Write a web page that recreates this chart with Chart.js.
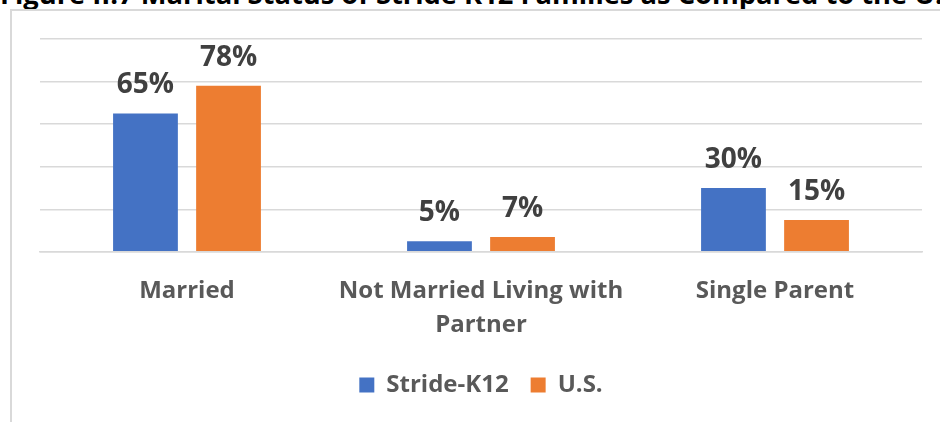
<!DOCTYPE html>
<html>
<head>
<meta charset="utf-8">
<script src="https://cdn.jsdelivr.net/npm/chart.js@4.4.1/dist/chart.umd.min.js"></script>
<style>
  html, body { margin: 0; padding: 0; background: #fff; overflow: hidden; }
  body { width: 940px; height: 422px; position: relative; font-family: 'Open Sans', sans-serif; }
  #title { position: absolute; left: 0; top: -20px; white-space: nowrap; font-weight: bold; font-size: 27.3px; line-height: 27px; color: #000; }
  #frame { position: absolute; left: 10px; top: 9px; width: 1000px; height: 500px; border: 2px solid #d9d9d9; }
  #wrap { position: absolute; left: 0; top: 0; width: 940px; height: 422px; }
</style>
</head>
<body>
<div id="title">Figure II.7 Marital Status of Stride K12 Families as Compared to the U.S.</div>
<div id="frame"></div>
<div id="wrap"><canvas id="my-chart"></canvas></div>
<script>
const categories = [['Married'], ['Not Married Living with', 'Partner'], ['Single Parent']];
const strideValues = [65, 5, 30];
const usValues = [78, 7, 15];
const seriesNames = ['Stride-K12', 'U.S.'];

// labels on top of bars, like Excel data labels
const barLabels = {
  id: 'barLabels',
  afterDatasetsDraw(chart) {
    const { ctx } = chart;
    ctx.save();
    ctx.font = 'bold 28px "Open Sans"';
    ctx.fillStyle = '#404040';
    ctx.textAlign = 'center';
    ctx.textBaseline = 'alphabetic';
    chart.data.datasets.forEach((ds, i) => {
      chart.getDatasetMeta(i).data.forEach((bar, j) => {
        ctx.fillText(ds.data[j] + '%', bar.x, bar.y - 20);
      });
    });
    ctx.restore();
  }
};

const ctx = document.querySelector('#my-chart').getContext('2d');
const chart = new Chart(ctx, {
  type: 'bar',
  data: {
    labels: categories,
    datasets: [
      { label: seriesNames[0], data: strideValues, backgroundColor: '#4472c4' },
      { label: seriesNames[1], data: usValues, backgroundColor: '#ed7d31' }
    ]
  },
  options: {
    responsive: true,
    maintainAspectRatio: false,
    animation: false,
    categoryPercentage: 0.565,
    barPercentage: 0.78,
    layout: { padding: { left: 40, right: 18, top: 39, bottom: 15 } },
    scales: {
      x: {
        grid: { display: false },
        border: { color: '#d9d9d9', width: 1.5 },
        ticks: { color: '#595959', font: { family: 'Open Sans', size: 24, weight: 'bold', lineHeight: 1.42 }, padding: 14, maxRotation: 0 },
        afterFit(scale) { scale.height -= 5; }
      },
      y: {
        min: 0, max: 100,
        ticks: { stepSize: 20, display: false },
        grid: { color: '#d9d9d9', lineWidth: 1.5, drawTicks: false },
        border: { display: false }
      }
    },
    plugins: {
      legend: {
        position: 'bottom',
        labels: { color: '#595959', font: { family: 'Open Sans', size: 24, weight: 'bold' }, boxWidth: 15, boxHeight: 15, padding: 22 }
      },
      tooltip: { enabled: false }
    }
  },
  plugins: [barLabels]
});
</script>
</body>
</html>
